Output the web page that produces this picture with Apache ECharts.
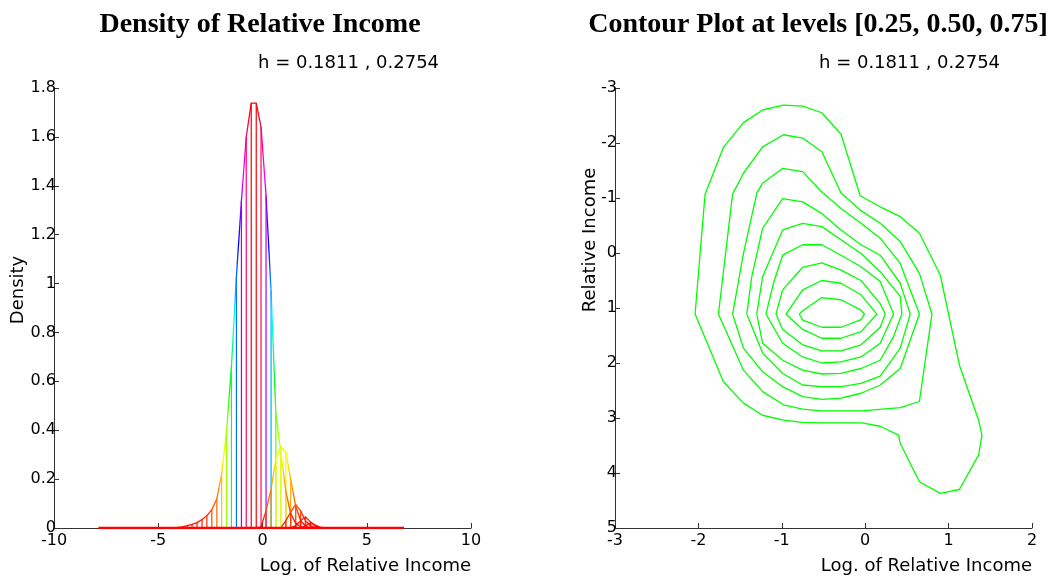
<!DOCTYPE html>
<html>
<head>
<meta charset="utf-8">
<script src="https://cdn.jsdelivr.net/npm/echarts/dist/echarts.min.js"></script>
<style>
  html, body { margin: 0; padding: 0; background: #fff; }
  #chart { width: 1048px; height: 577px; }
</style>
</head>
<body>
<div id="chart"></div>
<script>
// ---- left panel: sections of the estimated density (log of relative income) ----
const baseX = [-7.87, 6.79];
const baseY = [0, 0];

const mainX = [-4.32, -4.09, -3.85, -3.61, -3.38, -3.14, -2.90, -2.67, -2.43, -2.19, -1.96, -1.72, -1.49, -1.25,
               -1.01, -0.78, -0.54, -0.30, -0.07, 0.17, 0.41, 0.64, 0.88, 1.12, 1.35, 1.59, 1.83, 2.06];
const mainY = [0, 0.002, 0.005, 0.01, 0.015, 0.022, 0.035, 0.05, 0.075, 0.12, 0.22, 0.40, 0.66, 1.03,
               1.34, 1.60, 1.738, 1.738, 1.64, 1.36, 0.97, 0.47, 0.31, 0.15, 0.06, 0.02, 0.005, 0];

const sec1X = [-0.30, -0.07, 0.17, 0.41, 0.64, 0.88, 1.12, 1.35, 1.59, 1.83, 2.06, 2.30];
const sec1Y = [0, 0.005, 0.07, 0.16, 0.28, 0.333, 0.31, 0.20, 0.09, 0.03, 0.008, 0];
const sec2X = [0.88, 1.12, 1.35, 1.59, 1.83, 2.06, 2.30, 2.53];
const sec2Y = [0, 0.03, 0.065, 0.097, 0.07, 0.03, 0.01, 0];
const sec3X = [1.35, 1.59, 1.83, 2.06, 2.30, 2.53, 2.77];
const sec3Y = [0, 0.01, 0.03, 0.046, 0.025, 0.01, 0];
const sec4X = [1.83, 2.06, 2.30, 2.53, 2.77, 3.00];
const sec4Y = [0, 0.01, 0.02, 0.012, 0.004, 0];

const densityTicks = { xMin: -10, xMax: 10, xStep: 5, yMin: 0, yMax: 1.8, yStep: 0.2 };

// ---- right panel: contour lines ----
const contour1 = [[-0.79,1.11],[-0.75,1.05],[-0.52,0.81],[-0.29,0.85],[-0.05,1.04],[-0.01,1.11],[-0.05,1.21],
  [-0.29,1.35],[-0.52,1.35],[-0.75,1.22],[-0.79,1.11]];
const contour2 = [[-0.95,1.11],[-0.75,0.67],[-0.52,0.50],[-0.29,0.55],[-0.05,0.76],[0.14,1.11],[-0.05,1.43],
  [-0.29,1.55],[-0.52,1.55],[-0.75,1.39],[-0.95,1.11]];
const contour3 = [[-1.07,1.11],[-0.99,0.67],[-0.75,0.26],[-0.52,0.18],[-0.29,0.31],[-0.05,0.50],[0.18,0.92],
  [0.24,1.11],[0.18,1.35],[-0.05,1.67],[-0.29,1.78],[-0.52,1.78],[-0.75,1.67],[-0.99,1.39],[-1.07,1.11]];
const contour4 = [[-1.19,1.11],[-1.10,0.55],[-0.99,0.04],[-0.75,-0.15],[-0.52,-0.15],[-0.29,0.04],[-0.05,0.25],
  [0.18,0.52],[0.34,1.11],[0.18,1.64],[-0.05,1.89],[-0.29,1.98],[-0.52,2.00],[-0.75,1.89],[-0.99,1.64],[-1.19,1.11]];
const contour5 = [[-1.30,1.11],[-1.23,0.43],[-0.99,-0.42],[-0.75,-0.54],[-0.52,-0.48],[-0.29,-0.24],[-0.05,0.01],
  [0.18,0.34],[0.42,0.79],[0.44,1.11],[0.34,1.52],[0.18,1.95],[-0.05,2.10],[-0.29,2.19],[-0.52,2.20],[-0.75,2.13],
  [-0.99,1.95],[-1.23,1.64],[-1.30,1.11]];
const contour6 = [[-1.42,1.11],[-1.36,0.43],[-1.23,-0.45],[-0.99,-0.99],[-0.75,-0.93],[-0.52,-0.72],[-0.29,-0.42],
  [-0.05,-0.15],[0.18,0.04],[0.42,0.55],[0.54,1.11],[0.42,1.73],[0.18,2.24],[-0.05,2.37],[-0.29,2.43],[-0.52,2.43],
  [-0.75,2.40],[-0.99,2.19],[-1.23,1.82],[-1.42,1.11]];
const contour7 = [[-1.59,1.11],[-1.46,0.01],[-1.30,-1.09],[-1.23,-1.27],[-0.99,-1.54],[-0.75,-1.48],[-0.52,-1.11],
  [-0.29,-0.81],[-0.05,-0.54],[0.18,-0.27],[0.42,0.19],[0.65,1.11],[0.42,2.10],[0.18,2.40],[-0.05,2.55],[-0.29,2.64],
  [-0.52,2.66],[-0.75,2.61],[-0.99,2.43],[-1.23,2.16],[-1.46,1.73],[-1.59,1.11]];
const contour8 = [[-1.76,1.11],[-1.59,-1.07],[-1.46,-1.45],[-1.23,-1.93],[-0.98,-2.15],[-0.75,-2.09],[-0.52,-1.84],
  [-0.29,-1.09],[-0.06,-0.78],[0.18,-0.54],[0.42,-0.21],[0.65,0.37],[0.80,1.11],[0.65,2.70],[0.42,2.81],[-0.04,2.87],
  [-0.52,2.87],[-0.75,2.84],[-0.98,2.76],[-1.23,2.52],[-1.46,2.13],[-1.76,1.11]];
const contour9 = [[-0.98,-2.69],[-0.75,-2.67],[-0.52,-2.55],[-0.29,-2.16],[-0.06,-1.04],[0.18,-0.84],[0.42,-0.66],
  [0.65,-0.36],[0.90,0.40],[1.13,2.04],[1.36,3.04],[1.40,3.31],[1.36,3.67],[1.13,4.30],[0.90,4.37],[0.65,4.16],
  [0.42,3.46],[0.40,3.31],[0.18,3.15],[-0.04,3.09],[-0.29,3.09],[-0.52,3.09],[-0.75,3.08],[-0.98,3.04],[-1.23,2.95],
  [-1.46,2.73],[-1.70,2.34],[-2.04,1.11],[-1.92,-1.07],[-1.70,-1.92],[-1.46,-2.37],[-1.23,-2.60],[-0.98,-2.69]];

const contourTicks = { xMin: -3, xMax: 2, yMin: -3, yMax: 5, step: 1 };

const zip = (xs, ys) => xs.map((x, i) => [x, ys[i]]);

let sections = [zip(mainX, mainY), zip(sec1X, sec1Y), zip(sec2X, sec2Y), zip(sec3X, sec3Y), zip(sec4X, sec4Y)];
let stems = [];
for (let s of sections) {
    for (let p of s) {
        if (p[1] > 0) stems.push(p);
    }
}

let chart = echarts.init(document.getElementById('chart'));

const axisLine = { show: true, onZero: false, lineStyle: { color: '#333', width: 1 } };
const axisTick = { show: true, inside: true, length: 5, lineStyle: { color: '#333' } };
const tickFont = { color: '#000', fontSize: 16, fontFamily: 'DejaVu Sans' };
const nameFont = { fill: '#000', fontSize: 18, fontFamily: 'DejaVu Sans' };

let series = [
    {
        type: 'bar', xAxisIndex: 0, yAxisIndex: 0,
        data: stems, barWidth: 1.2, z: 1, silent: true
    },
    {
        type: 'line', xAxisIndex: 0, yAxisIndex: 0,
        data: zip(baseX, baseY), showSymbol: false, lineStyle: { width: 2.4 }, z: 3
    }
];
for (let s of sections) {
    series.push({
        type: 'line', xAxisIndex: 0, yAxisIndex: 0,
        data: s, showSymbol: false, lineStyle: { width: 1.3 }, z: 2
    });
}
for (let c of [contour1, contour2, contour3, contour4, contour5, contour6, contour7, contour8, contour9]) {
    series.push({
        type: 'line', xAxisIndex: 1, yAxisIndex: 1,
        data: c, showSymbol: false, color: '#00ff00',
        lineStyle: { width: 1.3, color: '#00ff00' }
    });
}

let option = {
    backgroundColor: '#fff',
    animation: false,
    title: [
        {
            text: 'Density of Relative Income', left: 255, top: 6, textAlign: 'center',
            textStyle: { color: '#000', fontFamily: 'Liberation Serif', fontWeight: 'bold', fontSize: 28 }
        },
        {
            text: 'Contour Plot at levels [0.25, 0.50, 0.75]', left: 813, top: 6, textAlign: 'center',
            textStyle: { color: '#000', fontFamily: 'Liberation Serif', fontWeight: 'bold', fontSize: 28 }
        }
    ],
    grid: [
        { left: 54, top: 88, width: 417, height: 440 },
        { left: 615, top: 88, width: 417, height: 440 }
    ],
    xAxis: [
        {
            type: 'value', gridIndex: 0, min: densityTicks.xMin, max: densityTicks.xMax, interval: densityTicks.xStep,
            axisLine: axisLine, axisTick: axisTick, splitLine: { show: false },
            axisLabel: Object.assign({ margin: 5 }, tickFont)
        },
        {
            type: 'value', gridIndex: 1, min: contourTicks.xMin, max: contourTicks.xMax, interval: contourTicks.step,
            axisLine: axisLine, axisTick: axisTick, splitLine: { show: false },
            axisLabel: Object.assign({ margin: 5 }, tickFont)
        }
    ],
    yAxis: [
        {
            type: 'value', gridIndex: 0, min: densityTicks.yMin, max: densityTicks.yMax, interval: densityTicks.yStep,
            axisLine: axisLine, axisTick: axisTick, splitLine: { show: false },
            axisLabel: Object.assign({ margin: -2 }, tickFont)
        },
        {
            type: 'value', gridIndex: 1, inverse: true, min: contourTicks.yMin, max: contourTicks.yMax,
            interval: contourTicks.step,
            axisLine: axisLine, axisTick: axisTick, splitLine: { show: false },
            axisLabel: Object.assign({ margin: -2 }, tickFont)
        }
    ],
    visualMap: {
        type: 'continuous', show: false, dimension: 1, min: 0, max: 1.738,
        seriesIndex: [0, 1, 2, 3, 4, 5, 6],
        inRange: { color: ['#ff0000', '#ffff00', '#00ff00', '#00ffff', '#0000ff', '#ff00ff', '#ff0000'] }
    },
    graphic: [
        { type: 'text', left: 258, top: 54, style: Object.assign({ text: 'h = 0.1811 , 0.2754' }, nameFont) },
        { type: 'text', left: 819, top: 54, style: Object.assign({ text: 'h = 0.1811 , 0.2754' }, nameFont) },
        { type: 'text', right: 1048 - 471, top: 557, style: Object.assign({ text: 'Log. of Relative Income' }, nameFont) },
        { type: 'text', right: 1048 - 1032, top: 557, style: Object.assign({ text: 'Log. of Relative Income' }, nameFont) },
        {
            type: 'text', x: 18, y: 290, rotation: Math.PI / 2,
            style: Object.assign({ text: 'Density', align: 'center', verticalAlign: 'middle' }, nameFont)
        },
        {
            type: 'text', x: 590, y: 240, rotation: Math.PI / 2,
            style: Object.assign({ text: 'Relative Income', align: 'center', verticalAlign: 'middle' }, nameFont)
        }
    ],
    series: series
};
chart.setOption(option);
</script>
</body>
</html>
